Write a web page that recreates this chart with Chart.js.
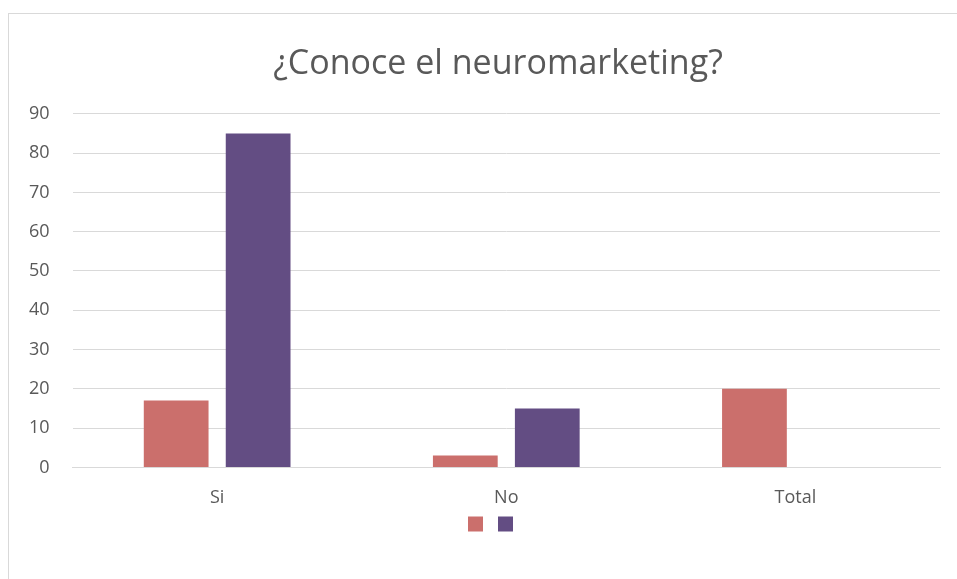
<!DOCTYPE html>
<html>
<head>
<meta charset="utf-8">
<script src="https://cdn.jsdelivr.net/npm/chart.js@4"></script>
<style>
  html, body { margin: 0; padding: 0; background: #fff; }
  #wrap { position: relative; width: 957px; height: 579px; }
  #frame { position: absolute; left: 8px; top: 13px; right: 0; bottom: 0;
           border-left: 1px solid #d9d9d9; border-top: 1px solid #d9d9d9; }
  canvas { position: absolute; left: 0; top: 0; }
</style>
</head>
<body>
<div id="wrap">
  <div id="frame"></div>
  <canvas id="chart" width="957" height="579"></canvas>
</div>
<script>
// datos del gráfico
const categories = ['Si', 'No', 'Total'];
const serie1 = [17, 3, 20];
const serie2 = [85, 15, 0];
const yTicks = [0, 10, 20, 30, 40, 50, 60, 70, 80, 90];

const textColor = '#595959';
const fontFamily = "'Open Sans', 'Liberation Sans', sans-serif";

const ctx = document.getElementById('chart').getContext('2d');

// desplaza título y leyenda como en la imagen original
const shiftBoxes = {
    id: 'shiftBoxes',
    afterLayout(chart) {
        const t = chart.titleBlock;
        if (t) { t.left += 25; t.right += 25; }
        const l = chart.legend;
        if (l) { l.left += 22; l.right += 22; l.top -= 12; l.bottom -= 12; }
    }
};

new Chart(ctx, {
    type: 'bar',
    data: {
        labels: categories,
        datasets: [
            { label: '', data: serie1, backgroundColor: '#cb6f6c', categoryPercentage: 0.567, barPercentage: 0.79 },
            { label: '', data: serie2, backgroundColor: '#634d83', categoryPercentage: 0.567, barPercentage: 0.79 }
        ]
    },
    options: {
        responsive: false,
        animation: false,
        layout: { padding: { left: 6, right: 17, top: 44, bottom: 24 } },
        plugins: {
            title: {
                display: true,
                text: '¿Conoce el neuromarketing?',
                color: textColor,
                font: { family: fontFamily, size: 34, weight: 'normal' },
                padding: { top: 0, bottom: 29 }
            },
            legend: {
                position: 'bottom',
                labels: {
                    boxWidth: 15, boxHeight: 15, padding: 6,
                    font: { family: fontFamily, size: 18 }
                }
            },
            tooltip: { enabled: false }
        },
        scales: {
            x: {
                grid: { display: false },
                border: { color: '#d9d9d9' },
                ticks: { color: textColor, font: { family: fontFamily, size: 18 }, padding: 12 }
            },
            y: {
                min: 0, max: 90,
                afterBuildTicks: axis => { axis.ticks = yTicks.map(v => ({ value: v })); },
                grid: { color: '#d9d9d9', drawTicks: false },
                border: { display: false },
                ticks: { color: textColor, font: { family: fontFamily, size: 18 }, padding: 23 }
            }
        }
    },
    plugins: [shiftBoxes]
});
</script>
</body>
</html>
